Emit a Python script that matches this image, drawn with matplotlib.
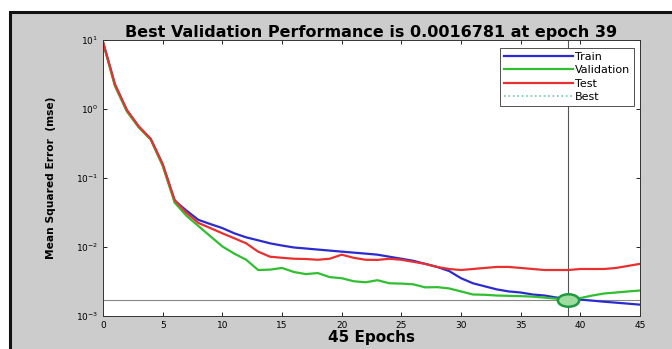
import matplotlib
matplotlib.use("Agg")
import matplotlib.pyplot as plt
from matplotlib.patches import Rectangle
from matplotlib.markers import MarkerStyle
from matplotlib.transforms import Affine2D
from matplotlib.lines import Line2D
import numpy as np

# Training record: mean squared error per epoch
epochs = list(range(0, 46))

train_mse = [9.33, 2.23, 0.95, 0.551, 0.365, 0.156, 0.0472, 0.0336, 0.0247, 0.0215,
             0.0188, 0.0158, 0.0138, 0.0125, 0.0113, 0.0105, 0.00984, 0.00951, 0.00918, 0.00887,
             0.00857, 0.00829, 0.00802, 0.00774, 0.00723, 0.00676, 0.00631, 0.00570, 0.00514, 0.00449,
             0.00353, 0.00298, 0.00269, 0.00243, 0.00227, 0.00219, 0.00205, 0.00198, 0.00185, 0.00179,
             0.00173, 0.00167, 0.00161, 0.00156, 0.00151, 0.00146]

val_mse = [9.20, 2.15, 0.92, 0.540, 0.360, 0.150, 0.0441, 0.0283, 0.0201, 0.0143,
           0.0102, 0.00802, 0.00653, 0.00464, 0.00470, 0.00497, 0.00434, 0.00405, 0.00419, 0.00366,
           0.00353, 0.00319, 0.00308, 0.00330, 0.00298, 0.00295, 0.00288, 0.00260, 0.00262, 0.00251,
           0.00227, 0.00205, 0.00203, 0.00198, 0.00196, 0.00194, 0.00191, 0.00185, 0.00178, 0.0016781,
           0.00182, 0.00198, 0.00212, 0.00219, 0.00227, 0.00234]

test_mse = [9.40, 2.30, 0.97, 0.560, 0.370, 0.160, 0.0480, 0.0313, 0.0223, 0.0188,
            0.0158, 0.0134, 0.0113, 0.00857, 0.00723, 0.00698, 0.00676, 0.00670, 0.00653, 0.00676,
            0.00774, 0.00698, 0.00653, 0.00650, 0.00676, 0.00653, 0.00610, 0.00570, 0.00514, 0.00480,
            0.00464, 0.00480, 0.00497, 0.00514, 0.00514, 0.00497, 0.00480, 0.00464, 0.00464, 0.00464,
            0.00480, 0.00480, 0.00480, 0.00497, 0.00532, 0.00570]

best_epoch = 39
best_perf = 0.0016781
n_epochs = 45

x_ticks = [0, 5, 10, 15, 20, 25, 30, 35, 40, 45]
y_ticks = [1e-3, 1e-2, 1e-1, 1e0, 1e1]
y_tick_labels = [r"$10^{-3}$", r"$10^{-2}$", r"$10^{-1}$", r"$10^{0}$", r"$10^{1}$"]

fig = plt.figure(figsize=(6.72, 3.49), dpi=100, facecolor="white")

# grey window panel with dark frame
W, H = 672.0, 349.0
panel = Rectangle((10 / W, -0.02), 1.02, 1 - 12 / H + 0.02, transform=fig.transFigure,
                  facecolor="#cccccc", edgecolor="#111111", linewidth=2.2, zorder=-10)
fig.patches.append(panel)

ax = fig.add_axes([103 / W, 1 - 316 / H, (640 - 103) / W, (316 - 40) / H])
ax.set_zorder(1)
ax.set_facecolor("white")

ax.semilogy(epochs, train_mse, color="#2b2bd0", lw=1.6, label="Train")
ax.semilogy(epochs, val_mse, color="#2fbf2f", lw=1.6, label="Validation")
ax.semilogy(epochs, test_mse, color="#e83030", lw=1.6, label="Test")

# best validation marker and guide lines
ax.axvline(best_epoch, color="#555555", lw=0.8, zorder=1)
ax.axhline(best_perf, color="#888888", lw=0.8, zorder=1)
ell = MarkerStyle("o", transform=Affine2D().scale(1.7, 1.0))
ax.plot([best_epoch], [best_perf], linestyle="none", marker=ell, markersize=9,
        markerfacecolor="#9fdc9f", markeredgecolor="#1f9a3f", markeredgewidth=1.8, zorder=5)

ax.set_xlim(0, n_epochs)
ax.set_ylim(1e-3, 1e1)
ax.set_xticks(x_ticks)
ax.set_xticklabels([str(t) for t in x_ticks])
ax.set_yticks(y_ticks)
ax.set_yticklabels(y_tick_labels)
ax.minorticks_off()
ax.tick_params(direction="in", labelsize=6.5, length=3, width=0.6, top=True, right=True)
for s in ax.spines.values():
    s.set_linewidth(0.7)
    s.set_color("#333333")

ax.set_title("Best Validation Performance is 0.0016781 at epoch 39",
             fontsize=11.5, fontweight="bold", pad=2)
ax.set_xlabel("45 Epochs", fontsize=11, fontweight="bold", labelpad=0)
ax.set_ylabel("Mean Squared Error  (mse)", fontsize=7.7, fontweight="bold", labelpad=14)

handles = [
    Line2D([], [], color="#2b2bd0", lw=1.6),
    Line2D([], [], color="#2fbf2f", lw=1.6),
    Line2D([], [], color="#e83030", lw=1.6),
    Line2D([], [], color="#6fc9b0", lw=1.2, linestyle=":"),
]
leg = ax.legend(handles, ["Train", "Validation", "Test", "Best"], loc="upper right",
                bbox_to_anchor=(0.989, 0.971), borderaxespad=0, fontsize=8,
                handlelength=6.2, labelspacing=0.3, fancybox=False, framealpha=1,
                edgecolor="#333333", handletextpad=0.2, borderpad=0.35)
leg.get_frame().set_linewidth(0.6)

fig.savefig("out.png", dpi=100, facecolor=fig.get_facecolor())
